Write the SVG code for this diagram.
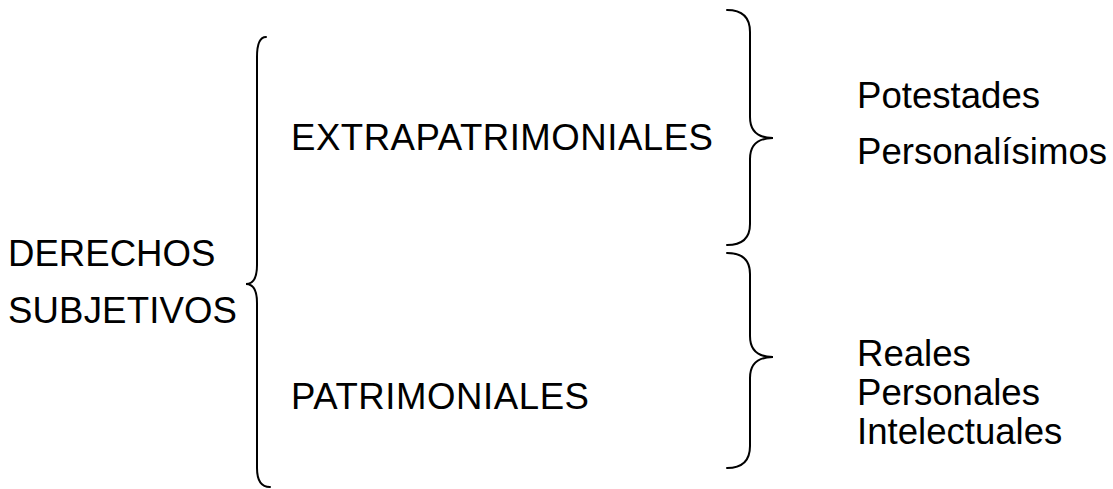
<svg xmlns="http://www.w3.org/2000/svg" width="1113" height="489" viewBox="0 0 1113 489">
<style>
text{font-family:"Liberation Sans",Arial,sans-serif;font-size:36.6px;fill:#000}
.br{fill:none;stroke:#000;stroke-width:2;stroke-linecap:round}
</style>
<rect width="1113" height="489" fill="#fff"/>
<g id="connectors">
<path class="br" d="M266,37 Q257,37 257,57 L257,265 Q257,284 246,284 Q257,284 257,303 L257,468 Q257,487 270,487"/>
<path class="br" d="M727,10 Q750,10 750,32 L750,117 Q750,138 773,138 Q750,138 750,159 L750,224 Q750,245 727,245"/>
<path class="br" d="M727,253 Q750,253 750,274 L750,336 Q750,357 773,357 Q750,357 750,378 L750,446 Q750,468 727,468"/>
</g>
<g id="derechos"><text x="8" y="266">DERECHOS</text><text x="8" y="323" textLength="229" lengthAdjust="spacing">SUBJETIVOS</text></g>
<g id="extra"><text x="291" y="150" textLength="422" lengthAdjust="spacing">EXTRAPATRIMONIALES</text></g>
<g id="patri"><text x="291" y="409" textLength="298" lengthAdjust="spacing">PATRIMONIALES</text></g>
<g id="potestades"><text x="857" y="108">Potestades</text></g>
<g id="personalisimos"><text x="857" y="164">Personalísimos</text></g>
<g id="reales"><text x="857" y="366">Reales</text></g>
<g id="personales"><text x="857" y="405">Personales</text></g>
<g id="intelectuales"><text x="857" y="444">Intelectuales</text></g>
</svg>
